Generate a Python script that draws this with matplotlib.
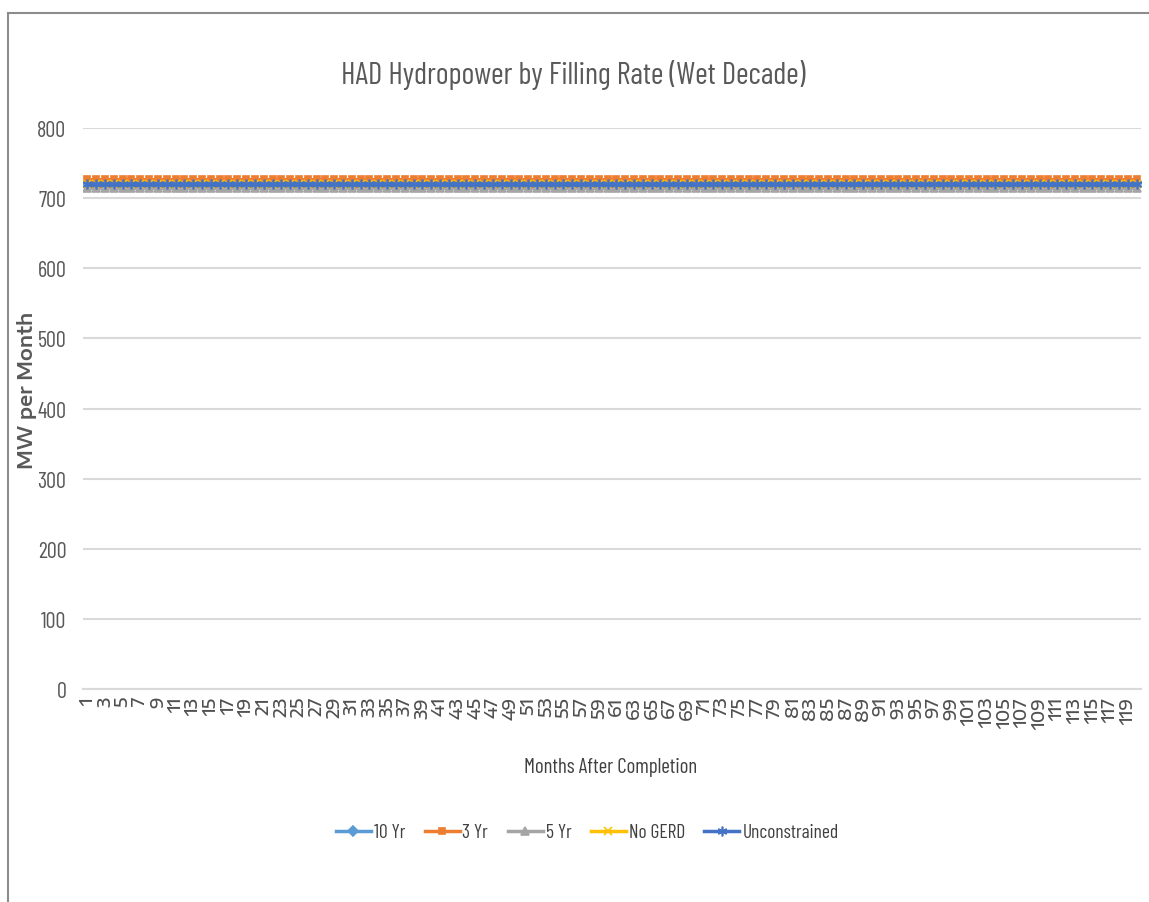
import matplotlib
matplotlib.use("Agg")
import matplotlib.pyplot as plt
from matplotlib.lines import Line2D

months = list(range(1, 121))
series_names = ["10 Yr", "3 Yr", "5 Yr", "No GERD", "Unconstrained"]
val_10yr = [722] * 120
val_3yr = [728] * 120
val_5yr = [714] * 120
val_nogerd = [720] * 120
val_unconstrained = [720] * 120
y_ticks = [0, 100, 200, 300, 400, 500, 600, 700, 800]
x_tick_labels = [str(m) for m in months[::2]]

colors = ["#5B9BD5", "#ED7D31", "#A5A5A5", "#FFC000", "#4472C4"]
markers = ["D", "s", "^", "x", (6, 2, 0)]
msizes = [5, 5, 6, 6, 7]
series = [val_10yr, val_3yr, val_5yr, val_nogerd, val_unconstrained]

narrow = ["Barlow Condensed", "DejaVu Sans"]
wide = ["Encode Sans Expanded", "DejaVu Sans"]

fig = plt.figure(figsize=(11.49, 9.03), dpi=100)
ax = fig.add_axes([0.0722, 0.2359, 0.9208, 0.6212])

for name, vals, c, m, ms in zip(series_names, series, colors, markers, msizes):
    ax.plot(months, vals, color=c, marker=m, markersize=ms, linewidth=2.2,
            markeredgewidth=1.2, label=name)

ax.set_xlim(0.5, 120.5)
ax.set_ylim(0, 800)
ax.set_yticks(y_ticks)
ax.set_yticklabels([str(v) for v in y_ticks], family=narrow, fontsize=16,
                   color="#595959")
ax.set_xticks(months[::2])
ax.set_xticklabels(x_tick_labels, rotation=90, family=wide,
                   fontsize=12.5, color="#505050", fontweight="medium")
ax.tick_params(axis="y", length=0, pad=12)
ax.tick_params(axis="x", length=0, pad=5)
ax.grid(axis="y", color="#D9D9D9", linewidth=1.5)
ax.set_axisbelow(True)
for s in ["top", "right", "left"]:
    ax.spines[s].set_visible(False)
ax.spines["bottom"].set_color("#D9D9D9")
ax.spines["bottom"].set_linewidth(1.5)

fig.text(0.4987, 0.917, "HAD Hydropower by Filling Rate (Wet Decade)", ha="center",
         va="center", family=narrow, fontsize=22, color="#595959")
fig.text(0.5315, 0.150, "Months After Completion", ha="center", va="center",
         family=narrow, fontsize=15, color="#404040")
fig.text(0.0235, 0.568, "MW per Month", ha="center", va="center", rotation=90,
         family=wide, fontsize=14, color="#595959", fontweight="semibold")

handles = [Line2D([0], [0], color=c, marker=m, markersize=ms, linewidth=2.5,
                  markeredgewidth=1.2) for c, m, ms in zip(colors, markers, msizes)]
fig.legend(handles, series_names, loc="center", bbox_to_anchor=(0.511, 0.077),
           ncol=5, frameon=False, prop={"family": narrow, "size": 14},
           labelcolor="#404040", handlelength=1.8, handletextpad=0.15,
           columnspacing=1.0)

fig.add_artist(Line2D([0.007, 1.0], [0.9845, 0.9845], transform=fig.transFigure,
                      color="#8C8C8C", linewidth=1.5))
fig.add_artist(Line2D([0.007, 0.007], [0.0, 0.9845], transform=fig.transFigure,
                      color="#8C8C8C", linewidth=1.5))

fig.savefig("out.png", dpi=100)
